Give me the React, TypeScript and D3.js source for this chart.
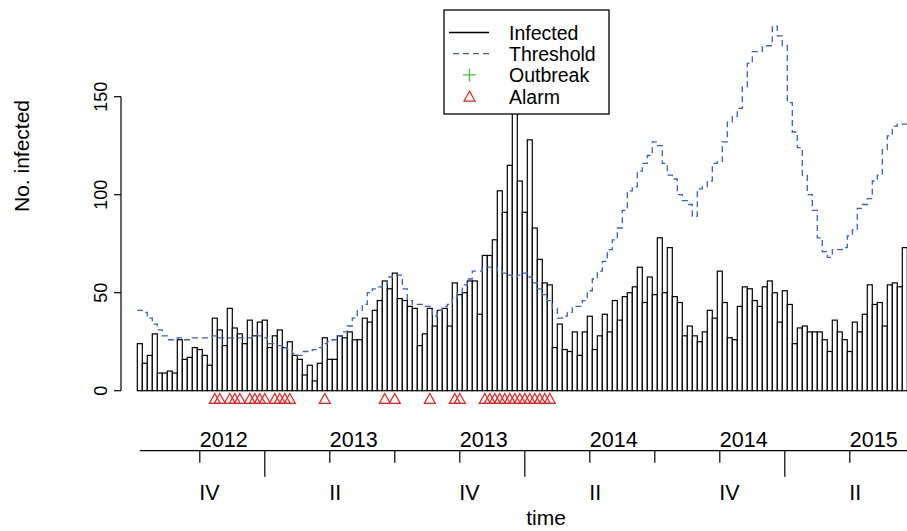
import * as d3 from 'd3';

// weekly counts (first week = 2012 Q3)
const infected = [
  24, 14, 18, 29, 9, 9, 10, 9, 26, 16,
  17, 22, 21, 18, 13, 37, 31, 23, 42, 32,
  29, 24, 36, 28, 35, 36, 22, 28, 31, 22,
  25, 18, 16, 8, 13, 5, 14, 27, 16, 16,
  28, 27, 30, 26, 26, 37, 35, 41, 46, 56,
  52, 60, 47, 46, 43, 42, 23, 29, 42, 33,
  41, 42, 33, 55, 49, 50, 56, 56, 39, 69,
  69, 77, 102, 91, 115, 145, 107, 91, 128, 83,
  67, 55, 54, 22, 34, 21, 20, 30, 18, 30,
  38, 21, 28, 39, 30, 46, 36, 48, 50, 53,
  63, 45, 58, 49, 78, 50, 73, 48, 45, 28,
  33, 28, 25, 30, 41, 37, 61, 45, 27, 26,
  43, 53, 52, 46, 43, 53, 56, 50, 35, 51,
  44, 24, 32, 33, 30, 30, 30, 26, 20, 36,
  30, 26, 20, 35, 30, 39, 54, 44, 45, 33,
  54, 55, 53, 73,
];

const threshold = [
  41, 40, 37, 34, 31, 28, 26, 26, 27, 26,
  26, 27, 27, 27, 27, 28, 27, 27, 27, 27,
  27, 27, 27, 28, 28, 27, 24, 24, 23, 22,
  21, 19, 18, 20, 20, 21, 22, 24, 25, 26,
  28, 30, 33, 37, 41, 44, 50, 52, 53, 54,
  58, 59, 59, 52, 46, 44, 44, 43, 43, 38,
  41, 43, 44, 47, 50, 54, 57, 61, 61, 63,
  63, 63, 61, 60, 59, 58, 59, 60, 58, 55,
  52, 49, 46, 42, 37, 38, 40, 43, 43, 46,
  51, 57, 61, 66, 72, 77, 83, 92, 102, 104,
  112, 116, 120, 127, 125, 116, 110, 108, 100, 97,
  95, 89, 103, 104, 107, 116, 117, 127, 137, 140,
  144, 155, 167, 173, 173, 176, 176, 186, 181, 176,
  147, 132, 124, 110, 100, 92, 78, 71, 68, 72,
  72, 73, 79, 82, 93, 95, 98, 107, 110, 123,
  130, 135, 136, 136,
];

// weeks (1-based) flagged with an alarm
const alarmWeeks = [
  16, 17, 19, 20, 21, 23, 24, 25, 26, 28, 29, 30, 31, 38,
  50, 52, 59, 64, 65,
  70, 71, 72, 73, 74, 75, 76, 77, 78, 79, 80, 81, 82, 83,
];

// time axis (0-based week index of each tick)
const quarterTicks = [12, 25, 38, 51, 64, 77, 90, 103, 116, 129, 142];
const yearTicks = [25, 77, 129];
const labelTicks = [12, 38, 64, 90, 116, 142];
const yearLabels = ['2012', '2013', '2013', '2014', '2014', '2015'];
const quarterLabels = ['IV', 'II', 'IV', 'II', 'IV', 'II'];

const yTicks = [0, 50, 100, 150];
const legendLabels = ['Infected', 'Threshold', 'Outbreak', 'Alarm'];

const W = 907;
const H = 531;
const FONT = '"Liberation Sans", Arial, Helvetica, sans-serif';
const BLUE = '#3a5ec4';
const RED = '#f01c1c';
const GREEN = '#3cc43c';

function triangle(cx: number, cy: number, s: number) {
  const h = s * 0.9;
  return `M${cx},${cy - h / 2}L${cx + s / 2},${cy + h / 2}L${cx - s / 2},${cy + h / 2}Z`;
}

export default function App() {
  const n = infected.length;
  const x = d3.scaleLinear().domain([0, n]).range([137.3, 137.3 + n * 5]);
  const y = d3.scaleLinear().domain([0, 150]).range([390.7, 96.7]);

  const stepPts: [number, number][] = threshold.map((v, i) => [i, v]);
  stepPts.push([n, threshold[n - 1]]);
  const thrLine = d3
    .line<[number, number]>()
    .x((d) => x(d[0]))
    .y((d) => y(d[1]))
    .curve(d3.curveStepAfter);

  const axisY = 450.7;
  const yAxisX = 121;

  return (
    <svg
      width={W}
      height={H}
      style={{ position: 'absolute', left: 0, top: 0, background: '#fff' }}
      fontFamily={FONT}
    >
      {/* bars */}
      <g>
        {infected.map((v, i) => (
          <rect
            key={i}
            x={x(i)}
            y={y(v)}
            width={x(i + 1) - x(i)}
            height={y(0) - y(v)}
            fill="#fff"
            stroke="#000"
            strokeWidth={1.2}
          />
        ))}
      </g>

      {/* threshold */}
      <path
        d={thrLine(stepPts) || ''}
        fill="none"
        stroke={BLUE}
        strokeWidth={1.3}
        strokeDasharray="6,4"
      />

      {/* alarms */}
      <g>
        {alarmWeeks.map((w) => (
          <path
            key={w}
            d={triangle(x(w - 0.5), 398.5, 11)}
            fill="none"
            stroke={RED}
            strokeWidth={1.2}
          />
        ))}
      </g>

      {/* y axis */}
      <g>
        <line
          x1={yAxisX}
          x2={yAxisX}
          y1={y(0)}
          y2={y(150)}
          stroke="#000"
          strokeWidth={1.2}
        />
        {yTicks.map((t) => (
          <g key={t}>
            <line
              x1={yAxisX - 7}
              x2={yAxisX}
              y1={y(t)}
              y2={y(t)}
              stroke="#000"
              strokeWidth={1.2}
            />
            <text
              transform={`translate(${yAxisX - 14},${y(t)}) rotate(-90)`}
              textAnchor="middle"
              fontSize={18}
            >
              {t}
            </text>
          </g>
        ))}
        <text
          transform="translate(29,156) rotate(-90)"
          textAnchor="middle"
          fontSize={21}
        >
          No. infected
        </text>
      </g>

      {/* time axis */}
      <g>
        <line
          x1={x(0.5)}
          x2={W}
          y1={axisY}
          y2={axisY}
          stroke="#000"
          strokeWidth={1.3}
        />
        {quarterTicks.map((t) => (
          <line
            key={t}
            x1={x(t + 0.5)}
            x2={x(t + 0.5)}
            y1={axisY}
            y2={axisY + (yearTicks.includes(t) ? 26 : 12)}
            stroke="#000"
            strokeWidth={1.2}
          />
        ))}
        {labelTicks.map((t, i) => (
          <g key={t}>
            <text x={x(t + 0.5)} y={446.7} fontSize={21.5}>
              {yearLabels[i]}
            </text>
            <text x={x(t + 0.5) - 0.5} y={500} fontSize={21.5}>
              {quarterLabels[i]}
            </text>
          </g>
        ))}
        <text x={546} y={525} textAnchor="middle" fontSize={21}>
          time
        </text>
      </g>

      {/* legend */}
      <g>
        <rect
          x={444}
          y={10}
          width={165}
          height={104}
          fill="#fff"
          stroke="#000"
          strokeWidth={1.3}
        />
        {legendLabels.map((lab, i) => {
          const base = 40 + i * 21.2;
          const cy = base - 7.5;
          return (
            <g key={lab}>
              {i === 0 && (
                <line x1={449} x2={489} y1={cy} y2={cy} stroke="#000" strokeWidth={1.3} />
              )}
              {i === 1 && (
                <line
                  x1={453}
                  x2={490}
                  y1={cy}
                  y2={cy}
                  stroke={BLUE}
                  strokeWidth={1.3}
                  strokeDasharray="6,4"
                />
              )}
              {i === 2 && (
                <path
                  d={`M${463},${cy}H${476}M${469.5},${cy - 6.5}V${cy + 6.5}`}
                  stroke={GREEN}
                  strokeWidth={1.3}
                />
              )}
              {i === 3 && (
                <path d={triangle(469.5, cy, 11)} fill="none" stroke={RED} strokeWidth={1.2} />
              )}
              <text x={509} y={base} fontSize={19.5}>
                {lab}
              </text>
            </g>
          );
        })}
      </g>
    </svg>
  );
}
